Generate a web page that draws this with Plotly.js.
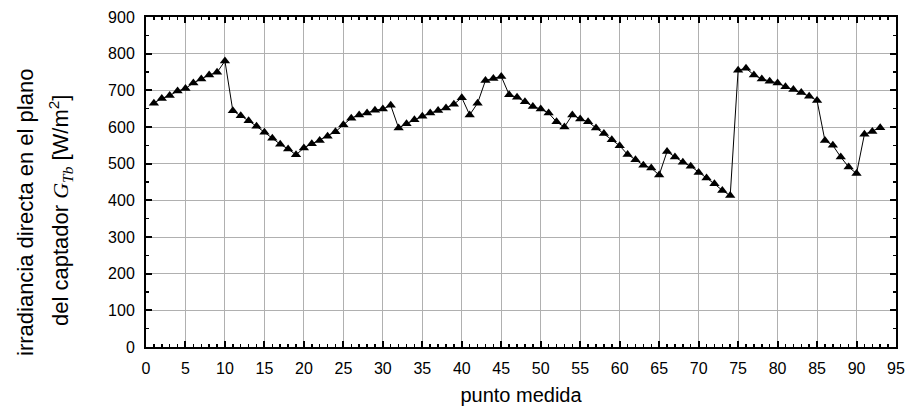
<!DOCTYPE html>
<html>
<head>
<meta charset="utf-8">
<script src="https://cdn.plot.ly/plotly-3.0.1.min.js"></script>
<style>html,body{margin:0;padding:0;background:#fff;}#chart{width:911px;height:415px;}</style>
</head>
<body>
<div id="chart"></div>
<script>
const punto = [1,2,3,4,5,6,7,8,9,10,11,12,13,14,15,16,17,18,19,20,21,22,23,24,25,26,27,28,29,30,
  31,32,33,34,35,36,37,38,39,40,41,42,43,44,45,46,47,48,49,50,51,52,53,54,55,56,57,58,59,60,
  61,62,63,64,65,66,67,68,69,70,71,72,73,74,75,76,77,78,79,80,81,82,83,84,85,86,87,88,89,90,91,92,93];
const irradiancia = [665,678,686,698,705,720,731,742,749,780,
  644,631,617,602,586,569,553,540,524,543,
  554,563,575,587,606,624,633,638,646,649,
  659,597,609,620,629,638,645,652,662,680,
  633,665,727,732,738,688,681,669,656,649,
  638,614,600,633,622,614,597,582,565,549,
  525,511,496,488,469,533,518,504,493,476,
  461,445,427,413,755,760,742,731,725,720,
  710,702,694,684,672,563,550,518,491,473,
  580,588,598];
const xTickVals = [0,5,10,15,20,25,30,35,40,45,50,55,60,65,70,75,80,85,90,95];
const yTickVals = [0,100,200,300,400,500,600,700,800,900];
const xTitle = 'punto medida';
const yTitle1 = 'irradiancia directa en el plano';
const yTitle2 = 'del captador <span style="font-family:\'Liberation Serif\'"><i>G</i><sub><i>Tb</i></sub></span> [W/m<sup>2</sup>]';

const font = {family: 'Liberation Sans, Arial, sans-serif', color: '#000'};
const axisCommon = {
  showline: true, linecolor: '#000', linewidth: 2, mirror: 'ticks',
  ticks: 'inside', ticklen: 6, tickwidth: 2, tickcolor: '#000',
  showgrid: true, gridcolor: '#b0b0b0', gridwidth: 1,
  zeroline: false, tickfont: {family: font.family, size: 16, color: '#000'},
  ticklabelstandoff: 6
};
const layout = {
  width: 911, height: 415,
  margin: {l: 146, r: 15, t: 17, b: 68},
  paper_bgcolor: '#fff', plot_bgcolor: '#fff',
  showlegend: false,
  font: font,
  xaxis: Object.assign({}, axisCommon, {
    range: [0, 95], tickmode: 'array', tickvals: xTickVals,
    minor: {dtick: 1, ticks: 'inside', ticklen: 3, tickwidth: 1.5, tickcolor: '#000', showgrid: false},
    title: {text: xTitle, font: {family: font.family, size: 20, color: '#000'}, standoff: 12}
  }),
  yaxis: Object.assign({}, axisCommon, {
    range: [0, 900], tickmode: 'array', tickvals: yTickVals,
    minor: {dtick: 50, ticks: 'inside', ticklen: 3, tickwidth: 1.5, tickcolor: '#000', showgrid: false}
  }),
  annotations: [
    {text: yTitle1, xref: 'paper', yref: 'paper', x: 0, y: 0.5, xanchor: 'center', yanchor: 'middle',
     xshift: -121, yshift: -31, textangle: -90, showarrow: false,
     font: {family: font.family, size: 22, color: '#000'}},
    {text: yTitle2, xref: 'paper', yref: 'paper', x: 0, y: 0.5, xanchor: 'center', yanchor: 'middle',
     xshift: -86, yshift: -29, textangle: -90, showarrow: false,
     font: {family: font.family, size: 22, color: '#000'}}
  ]
};
const trace = {
  x: punto, y: irradiancia, type: 'scatter', mode: 'lines+markers',
  line: {color: '#000', width: 1},
  marker: {symbol: 'triangle-up', size: 9, color: '#000'},
  cliponaxis: false
};
Plotly.newPlot('chart', [trace], layout, {staticPlot: true, displayModeBar: false});
</script>
</body>
</html>
